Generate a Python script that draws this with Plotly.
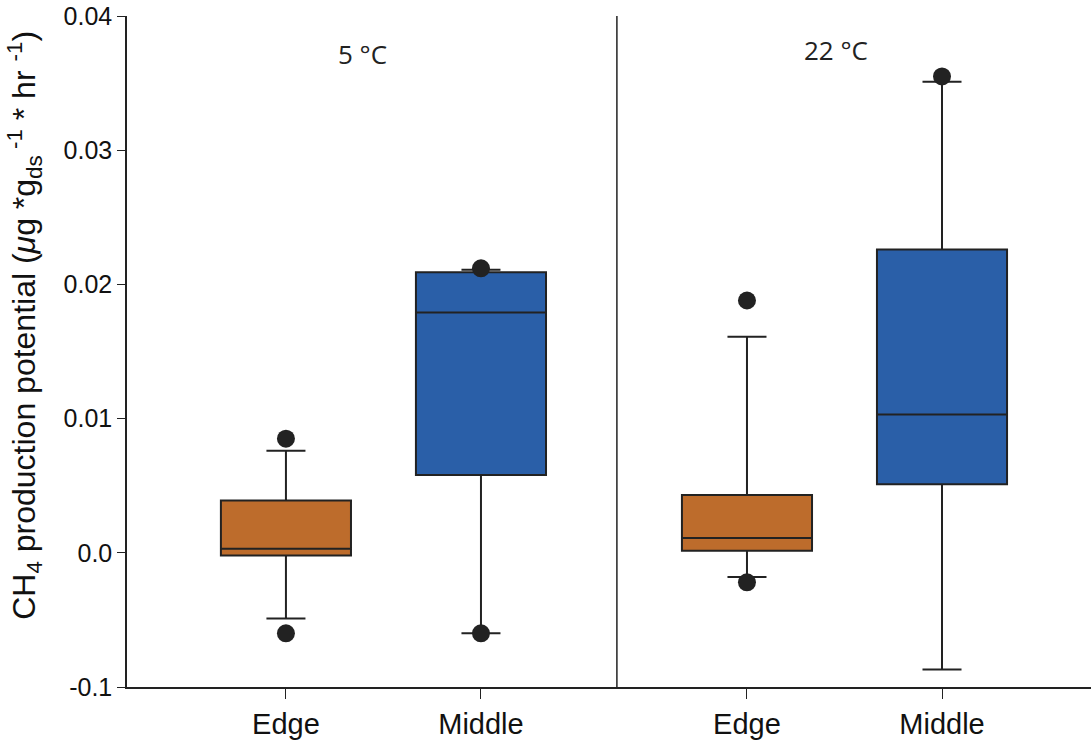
import plotly.graph_objects as go

# ---- data ----
temperatures = ["5 °C", "22 °C"]
sites = ["Edge", "Middle"]
colors = {"Edge": "#BD6C2C", "Middle": "#2A5FA8"}

# per temperature: [Edge, Middle]
q1 = {"5 °C": [-0.0002, 0.0058], "22 °C": [0.00015, 0.0051]}
median = {"5 °C": [0.0003, 0.0179], "22 °C": [0.0011, 0.0103]}
q3 = {"5 °C": [0.0039, 0.0209], "22 °C": [0.0043, 0.0226]}
lowerfence = {"5 °C": [-0.0049, -0.0060], "22 °C": [-0.0018, -0.0087]}
upperfence = {"5 °C": [0.0076, 0.0211], "22 °C": [0.0161, 0.0351]}
outliers = {
    "5 °C": [[0.0085, -0.0060], [0.0212, -0.0060]],
    "22 °C": [[0.0188, -0.0022], [0.0355]],
}

ytick_vals = [-0.01, 0.0, 0.01, 0.02, 0.03, 0.04]
ytick_text = ["-0.1", "0.0", "0.01", "0.02", "0.03", "0.04"]

# layout positions (x units)
site_pos = [0.0, 1.0]
group_offset = [0.0, 2.364]
box_w = 0.667

fig = go.Figure()
tickvals, ticktext = [], []
for gi, t in enumerate(temperatures):
    for si, s in enumerate(sites):
        x = group_offset[gi] + site_pos[si]
        tickvals.append(x)
        ticktext.append(s)
        fig.add_trace(go.Box(
            x=[x], q1=[q1[t][si]], median=[median[t][si]], q3=[q3[t][si]],
            lowerfence=[lowerfence[t][si]], upperfence=[upperfence[t][si]],
            width=box_w, whiskerwidth=0.3, boxpoints=False,
            fillcolor=colors[s], line=dict(color="#222222", width=2),
            showlegend=False, hoverinfo="skip",
        ))
        ys = outliers[t][si]
        fig.add_trace(go.Scatter(
            x=[x] * len(ys), y=ys, mode="markers",
            marker=dict(size=18, color="#222222"), showlegend=False,
        ))

# divider between groups
div_x = (group_offset[0] + site_pos[1] + group_offset[1] + site_pos[0]) / 2 + 0.015
fig.add_shape(type="line", xref="x", yref="y", x0=div_x, x1=div_x,
              y0=ytick_vals[0], y1=ytick_vals[-1],
              line=dict(color="#222222", width=1.5))

label_x = [0.395, 2.82]
label_y = [0.0372, 0.0375]
for gi, t in enumerate(temperatures):
    fig.add_annotation(x=label_x[gi], y=label_y[gi], xref="x", yref="y",
                       text=t, showarrow=False,
                       font=dict(family="Open Sans", size=26, color="#222222"))

fig.add_annotation(
    xref="paper", yref="paper", x=-0.106, y=0.5395, textangle=-90,
    showarrow=False, xanchor="center", yanchor="middle",
    text="CH<sub>4</sub> production potential (<i>μ</i>g *g<sub>ds</sub><sup> -1</sup> * hr <sup>-1</sup>)",
    font=dict(family="Liberation Sans", size=32, color="#111111"),
)

fig.update_layout(
    width=1091, height=741,
    margin=dict(l=127, r=0, t=16, b=54),
    plot_bgcolor="white", paper_bgcolor="white",
    font=dict(family="Liberation Sans", color="#111111"),
    xaxis=dict(range=[-0.815, 4.128], tickvals=tickvals, ticktext=ticktext,
               showline=True, linecolor="#222222", linewidth=1.5,
               ticks="outside", ticklen=10, tickcolor="#222222", tickwidth=1,
               showgrid=False, zeroline=False,
               tickfont=dict(size=29, family="Liberation Sans")),
    yaxis=dict(range=[-0.01, 0.04], tickvals=ytick_vals, ticktext=ytick_text,
               showline=True, linecolor="#222222", linewidth=1.5,
               ticks="outside", ticklen=8, tickcolor="#222222", tickwidth=1,
               showgrid=False, zeroline=False,
               tickfont=dict(size=25, family="Liberation Sans")),
)

fig.write_html("out.html", config={"displayModeBar": False},
               post_script="document.body.style.margin='0';")
